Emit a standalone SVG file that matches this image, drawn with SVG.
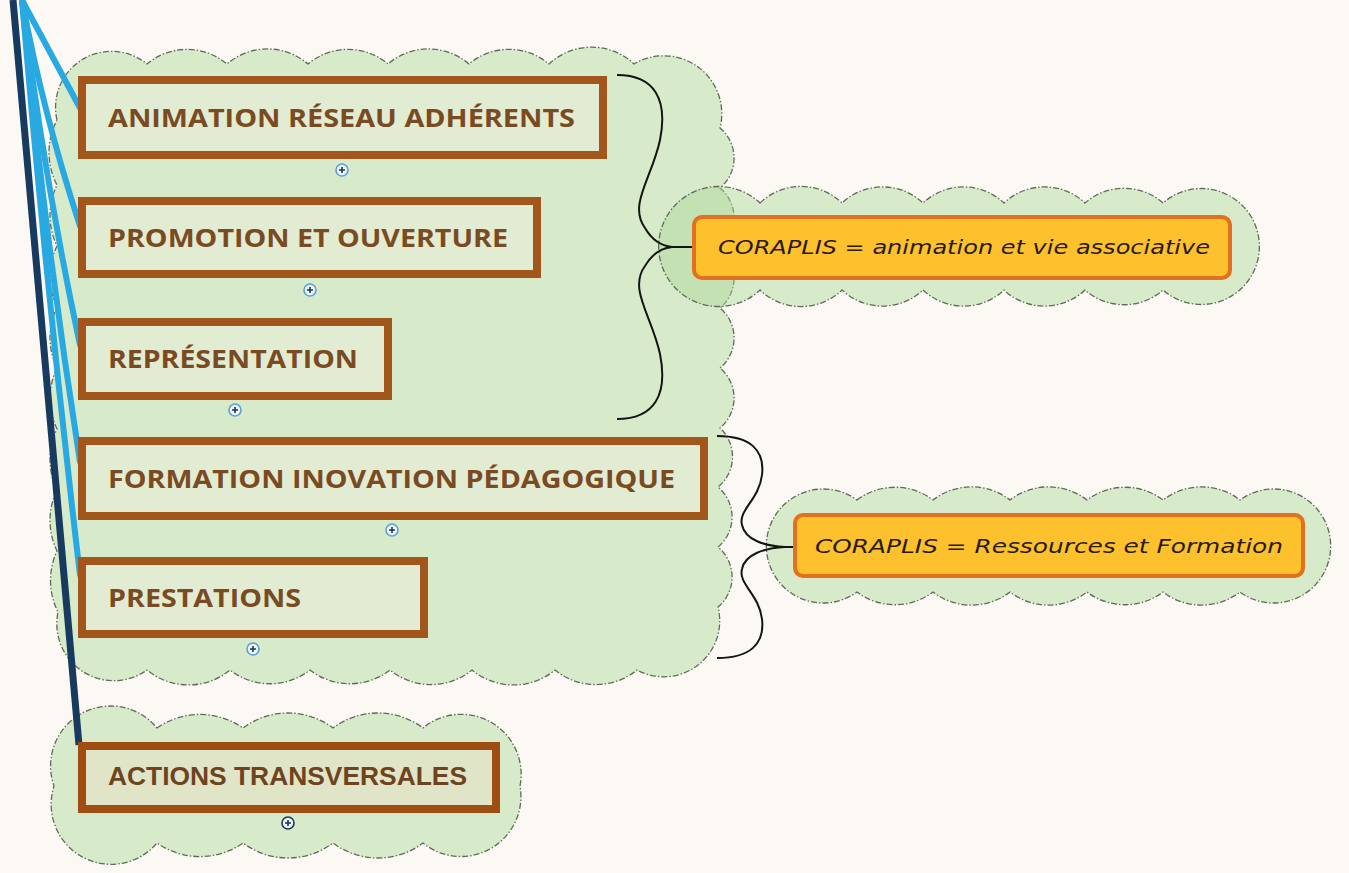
<svg xmlns="http://www.w3.org/2000/svg" width="1349" height="873" viewBox="0 0 1349 873">
<defs>
<style>
.cloud{fill:rgb(170,215,150);fill-opacity:0.45;stroke:#5f6b5a;stroke-width:1.3;stroke-dasharray:6 2 1.5 2}
.box{fill:#e2ecd2;stroke:#a2561c;stroke-width:8}
.lbl{font-family:"Open Sans","Liberation Sans",sans-serif;font-weight:700;font-size:25px;fill:#7a4b22}
.lbl2{font-family:"Liberation Sans",Arial,sans-serif;font-weight:700;font-size:25px;fill:#6e4420}
.ybox{fill:#fdc12e;stroke:#e2701f;stroke-width:4}
.ytxt{font-family:"DejaVu Sans","Liberation Sans",sans-serif;font-style:italic;font-size:19px;fill:#2a1a0c}
.blue{fill:none;stroke:#29a9e1;stroke-width:6;stroke-linecap:round}
.navy{fill:none;stroke:#173a5e;stroke-width:7}
.brace{fill:none;stroke:#141414;stroke-width:2}
.plus circle{fill:#eef5fc;stroke:#5d9fd8;stroke-width:1.6}
.plus path{stroke:#1d3557;stroke-width:1.6}
</style>
</defs>
<rect width="1349" height="873" fill="#fcf9f4"/>
<g id="clouds">
<path class="cloud" d="M 57 120 A 56 56 0 0 1 147 64 A 62 62 0 0 1 227 64 A 62 62 0 0 1 308 64 A 62 62 0 0 1 388 64 A 62 62 0 0 1 469 64 A 62 62 0 0 1 549 64 A 62 62 0 0 1 634 64 A 58 58 0 0 1 720 128 A 39 39 0 0 1 720 188 A 39 39 0 0 1 720 248 A 39 39 0 0 1 720 308 A 39 39 0 0 1 720 368 A 39 39 0 0 1 720 428 A 39 39 0 0 1 718 487 A 39 39 0 0 1 718 547 A 39 39 0 0 1 718 607 A 56 56 0 0 1 637 670 A 65 65 0 0 1 555 670 A 65 65 0 0 1 472 670 A 65 65 0 0 1 390 670 A 65 65 0 0 1 310 670 A 65 65 0 0 1 230 670 A 65 65 0 0 1 147 670 A 57 57 0 0 1 58 612 A 70 70 0 0 1 57 551 A 70 70 0 0 1 57 490 A 70 70 0 0 1 57 429 A 70 70 0 0 1 57 368 A 70 70 0 0 1 57 307 A 70 70 0 0 1 57 246 A 70 70 0 0 1 57 185 A 70 70 0 0 1 57 120 Z"/>
<path class="cloud" d="M 760 203 A 59 59 0 0 1 842 203 A 59 59 0 0 1 923 203 A 59 59 0 0 1 1004 203 A 59 59 0 0 1 1085 203 A 59 59 0 0 1 1163 203 A 58 58 0 1 1 1163 290 A 59 59 0 0 1 1085 290 A 59 59 0 0 1 1004 290 A 59 59 0 0 1 923 290 A 59 59 0 0 1 842 290 A 59 59 0 0 1 760 290 A 60 60 0 1 1 760 203 Z"/>
<path class="cloud" d="M 857 500 A 63 63 0 0 1 933 500 A 63 63 0 0 1 1010 500 A 63 63 0 0 1 1087 500 A 63 63 0 0 1 1163 500 A 63 63 0 0 1 1240 500 A 57 57 0 1 1 1240 592 A 63 63 0 0 1 1163 592 A 63 63 0 0 1 1087 592 A 63 63 0 0 1 1010 592 A 63 63 0 0 1 933 592 A 63 63 0 0 1 857 592 A 57 57 0 1 1 857 500 Z"/>
<path class="cloud" d="M 157 728 A 75 75 0 0 1 243 728 A 75 75 0 0 1 333 728 A 75 75 0 0 1 423 728 A 60 60 0 0 1 520 786 A 60 60 0 0 1 423 843 A 75 75 0 0 1 333 843 A 75 75 0 0 1 243 843 A 75 75 0 0 1 157 843 A 60 60 0 0 1 54 786 A 60 60 0 0 1 157 728 Z"/>
</g>
<g id="connectors">
<path class="blue" d="M 22 0 L 80 108"/>
<path class="blue" d="M 22 0 Q 43 113 80 226"/>
<path class="blue" d="M 22 0 Q 43 172 80 345"/>
<path class="blue" d="M 22 0 Q 44 231 80 462"/>
<path class="blue" d="M 22 0 Q 46 287 80 575"/>
<path class="navy" d="M 13 0 L 79 745"/>
<path class="brace" d="M 617 75 C 655 75 668 100 660 140 C 652 178 628 205 645 228 C 652 240 662 246 672 247 C 662 248 652 254 645 266 C 628 289 652 316 660 354 C 668 394 655 419 617 419"/>
<path class="brace" d="M 672 247 L 693 247"/>
<path class="brace" d="M 717 436 C 750 436 765 450 762 475 C 759 500 738 510 742 525 C 745 540 765 546 785 547 C 765 548 745 554 742 569 C 738 584 759 594 762 619 C 765 644 750 658 717 658"/>
<path class="brace" d="M 785 547 L 795 547"/>
</g>
<g id="n1">
<rect class="box" x="82" y="80" width="521" height="75"/>
<text class="lbl" x="108" y="127" textLength="467" lengthAdjust="spacingAndGlyphs">ANIMATION RÉSEAU ADHÉRENTS</text>
<g class="plus"><circle cx="342" cy="170" r="6"/><path d="M339 170h6M342 167v6"/></g>
</g>
<g id="n2">
<rect class="box" x="82" y="201" width="455" height="73"/>
<text class="lbl" x="108" y="247" textLength="400" lengthAdjust="spacingAndGlyphs">PROMOTION ET OUVERTURE</text>
<g class="plus"><circle cx="310" cy="290" r="6"/><path d="M307 290h6M310 287v6"/></g>
</g>
<g id="n3">
<rect class="box" x="82" y="322" width="306" height="74"/>
<text class="lbl" x="108" y="368" textLength="250" lengthAdjust="spacingAndGlyphs">REPRÉSENTATION</text>
<g class="plus"><circle cx="235" cy="410" r="6"/><path d="M232 410h6M235 407v6"/></g>
</g>
<g id="n4">
<rect class="box" x="82" y="441" width="622" height="75"/>
<text class="lbl" x="108" y="488" textLength="567" lengthAdjust="spacingAndGlyphs">FORMATION INOVATION PÉDAGOGIQUE</text>
<g class="plus"><circle cx="392" cy="530" r="6"/><path d="M389 530h6M392 527v6"/></g>
</g>
<g id="n5">
<rect class="box" x="82" y="561" width="342" height="73"/>
<text class="lbl" x="108" y="607" textLength="193" lengthAdjust="spacingAndGlyphs">PRESTATIONS</text>
<g class="plus"><circle cx="253" cy="649" r="6"/><path d="M250 649h6M253 646v6"/></g>
</g>
<g id="n6">
<rect class="box" x="82" y="746" width="414" height="63" style="fill:#e0e5c7;stroke:#a04d14"/>
<text class="lbl2" x="108" y="785" textLength="359" lengthAdjust="spacingAndGlyphs">ACTIONS TRANSVERSALES</text>
<g class="plus"><circle cx="288" cy="823" r="6" style="stroke:#1d3557"/><path d="M285 823h6M288 820v6"/></g>
</g>
<g id="c1">
<rect class="ybox" x="694" y="217" width="536" height="61" rx="8"/>
<text class="ytxt" x="718" y="254" textLength="492" lengthAdjust="spacingAndGlyphs">CORAPLIS = animation et vie associative</text>
</g>
<g id="c2">
<rect class="ybox" x="795" y="515" width="508" height="61" rx="8"/>
<text class="ytxt" x="815" y="553" textLength="468" lengthAdjust="spacingAndGlyphs">CORAPLIS = Ressources et Formation</text>
</g>
</svg>
